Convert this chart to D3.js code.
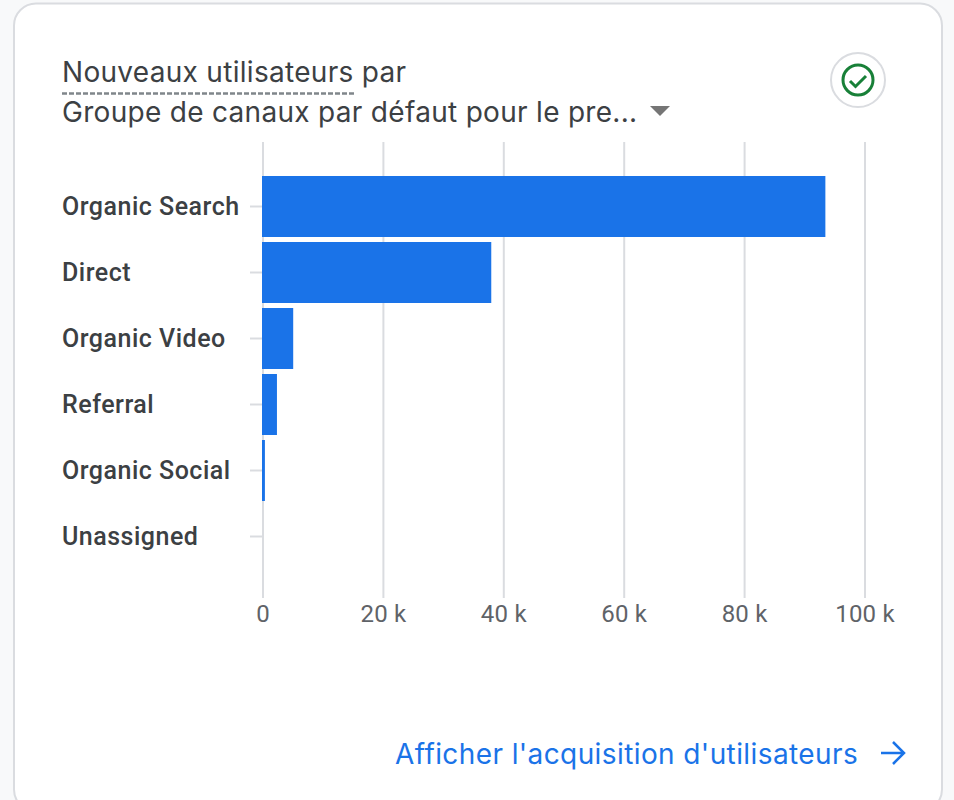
<!DOCTYPE html>
<html>
<head>
<meta charset="utf-8">
<script src="https://cdn.jsdelivr.net/npm/d3@7"></script>
<style>
  html, body { margin: 0; padding: 0; background: #f8f9fa; overflow: hidden; }
  svg { display: block; }
  .title { font-family: Inter, sans-serif; font-size: 28px; letter-spacing: 0.3px; fill: #3c4043; }
  .link { font-family: Inter, sans-serif; font-size: 28px; letter-spacing: 0.4px; fill: #1a73e8; }
  .cat text { font-family: Roboto, sans-serif; font-weight: 500; font-size: 25px; letter-spacing: 0.5px; fill: #3c4043; }
  .val text { font-family: Roboto, sans-serif; font-size: 24px; letter-spacing: 0.2px; fill: #5f6368; }
</style>
</head>
<body>
<svg id="mainScene"></svg>
<script>
var categories = ["Organic Search", "Direct", "Organic Video", "Referral", "Organic Social", "Unassigned"];
var newUsers = [93500, 38000, 5100, 2400, 400, 0];
var tickValues = [0, 20000, 40000, 60000, 80000, 100000];
var tickLabels = ["0", "20 k", "40 k", "60 k", "80 k", "100 k"];

var ctx = { w: 954, h: 800 };

var svg = d3.select("#mainScene").attr("width", ctx.w).attr("height", ctx.h);

// card
svg.append("rect")
  .attr("x", 14).attr("y", 3.5)
  .attr("width", 928).attr("height", 808)
  .attr("rx", 22)
  .attr("fill", "#fff")
  .attr("stroke", "#dadce0")
  .attr("stroke-width", 2);

// title
svg.append("text").attr("class", "title").attr("x", 62).attr("y", 82).text("Nouveaux utilisateurs par");
svg.append("line")
  .attr("x1", 62).attr("x2", 354)
  .attr("y1", 93.5).attr("y2", 93.5)
  .attr("stroke", "#80868b")
  .attr("stroke-width", 2.5)
  .attr("stroke-dasharray", "5 2");
svg.append("text").attr("class", "title").attr("x", 62).attr("y", 122).text("Groupe de canaux par défaut pour le pre...");

// dropdown arrow
svg.append("path").attr("d", "M650,106 L670,106 L660,116 Z").attr("fill", "#757575");

// check badge
svg.append("circle").attr("cx", 858).attr("cy", 80).attr("r", 27)
  .attr("fill", "#fff").attr("stroke", "#dadce0").attr("stroke-width", 2);
svg.append("circle").attr("cx", 858).attr("cy", 80).attr("r", 15)
  .attr("fill", "none").attr("stroke", "#188038").attr("stroke-width", 3);
svg.append("path").attr("d", "M850,81 L855.500,86.500 L866,76")
  .attr("fill", "none").attr("stroke", "#188038").attr("stroke-width", 3);

// scales
var x = d3.scaleLinear().domain([0, 100000]).range([262.5, 864.5]);
var y = d3.scaleBand().domain(categories).range([173.5, 569.5])
  .paddingInner(5 / 66).paddingOuter(2.5 / 66);

// value axis + grid
var xAxis = d3.axisBottom(x)
  .tickValues(tickValues)
  .tickSize(0)
  .tickPadding(0)
  .tickFormat(function(d, i) { return tickLabels[i]; });
var gx = svg.append("g").attr("class", "val").attr("transform", "translate(0,598)").call(xAxis);
gx.select(".domain").remove();
gx.selectAll("text").attr("dy", 0).attr("y", 24);
gx.selectAll(".tick").append("line")
  .attr("y1", 0).attr("y2", -456)
  .attr("stroke", "#dadce0").attr("stroke-width", 2);

// category axis
var yAxis = d3.axisLeft(y).tickSize(13).tickPadding(0);
var gy = svg.append("g").attr("class", "cat").attr("transform", "translate(263,0)").call(yAxis);
gy.select(".domain").remove();
gy.selectAll("line").attr("stroke", "#dadce0").attr("stroke-width", 2);
gy.selectAll("text").attr("x", 62 - 263).attr("text-anchor", "start");

// bars
svg.append("g").selectAll("rect")
  .data(categories)
  .enter()
  .append("rect")
  .attr("x", 262)
  .attr("y", function(d) { return y(d); })
  .attr("width", function(d, i) { return newUsers[i] > 0 ? x(newUsers[i]) - 262 : 0; })
  .attr("height", y.bandwidth())
  .attr("fill", "#1a73e8");

// footer link
svg.append("text").attr("class", "link").attr("x", 395).attr("y", 764).text("Afficher l'acquisition d'utilisateurs");
svg.append("path").attr("d", "M881,753 L903,753 M893,742 L904,753 L893,764")
  .attr("fill", "none").attr("stroke", "#1a73e8").attr("stroke-width", 2.500);
</script>
</body>
</html>
